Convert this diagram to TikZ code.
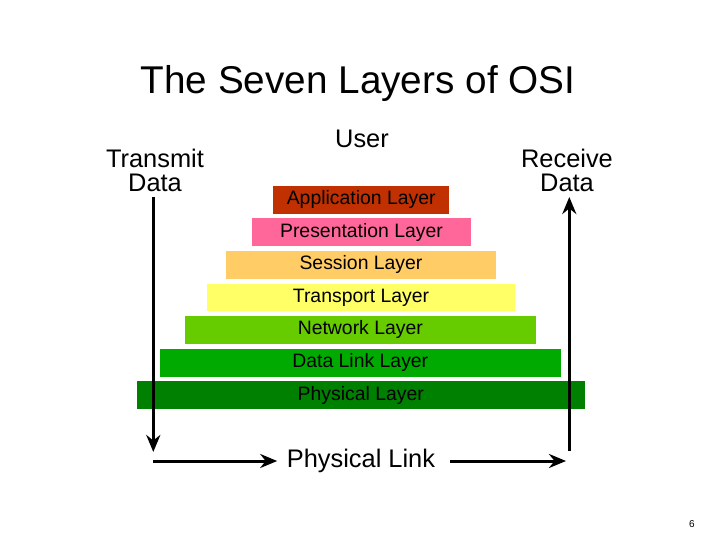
\documentclass[tikz,border=0pt]{standalone}
\usepackage{fontspec}
\setmainfont{Liberation Sans}
\usetikzlibrary{arrows.meta}
\definecolor{appc}{HTML}{C03000}
\definecolor{presc}{HTML}{FF6699}
\definecolor{sessc}{HTML}{FFCC66}
\definecolor{transc}{HTML}{FFFF66}
\definecolor{netc}{HTML}{66CC00}
\definecolor{dlc}{HTML}{00AA00}
\definecolor{physc}{HTML}{008000}
\begin{document}
\begin{tikzpicture}[x=1pt,y=-1pt,
  layer/.style={minimum height=27.7pt,inner sep=0pt,font=\fontsize{19.4}{21}\selectfont},
  label/.style={font=\fontsize{25.4}{25}\selectfont,align=center,inner sep=0pt},
  flow/.style={line width=3pt,-{Stealth[length=17pt,width=14pt]}}]
\useasboundingbox (0,0) rectangle (720,540);
\node[font=\fontsize{38.7}{40}\selectfont,inner sep=0pt] (title) at (358,83) {The Seven Layers of OSI};
\node[label] (user) at (362,139) {User};
\node[label] (tx) at (155,170) {Transmit\\[-1pt]Data};
\node[label] (rx) at (567,170) {Receive\\[-1pt]Data};
\node[layer,fill=appc,minimum width=175.7pt] (app) at (361.2,199.9) {Application Layer};
\node[layer,fill=presc,minimum width=218.4pt] (pres) at (361.5,232) {Presentation Layer};
\node[layer,fill=sessc,minimum width=269.4pt] (sess) at (361,264.8) {Session Layer};
\node[layer,fill=transc,minimum width=308pt] (trans) at (361,297.5) {Transport Layer};
\node[layer,fill=netc,minimum width=350.7pt] (net) at (360.3,329.8) {Network Layer};
\node[layer,fill=dlc,minimum width=400.7pt] (dl) at (360.3,362.8) {Data Link Layer};
\node[layer,fill=physc,minimum width=448.3pt] (phys) at (360.8,395) {Physical Layer};
\node[label] (link) at (361,461) {Physical Link};
\node[font=\fontsize{10}{11}\selectfont,inner sep=0pt] (pg) at (692,524) {6};
\coordinate (txtop) at (153.3,197);
\coordinate (txbot) at (153.3,452);
\coordinate (rxbot) at (569.3,451);
\coordinate (rxtop) at (569.3,197);
\coordinate (l1) at (153,461);
\coordinate (r2) at (566,461);
\draw[flow] (txtop) -- (txbot);
\draw[flow] (rxbot) -- (rxtop);
\draw[flow] (l1) -- ([xshift=-9.5pt]link.west);
\draw[flow] ([xshift=14.5pt]link.east) -- (r2);
\end{tikzpicture}
\end{document}
